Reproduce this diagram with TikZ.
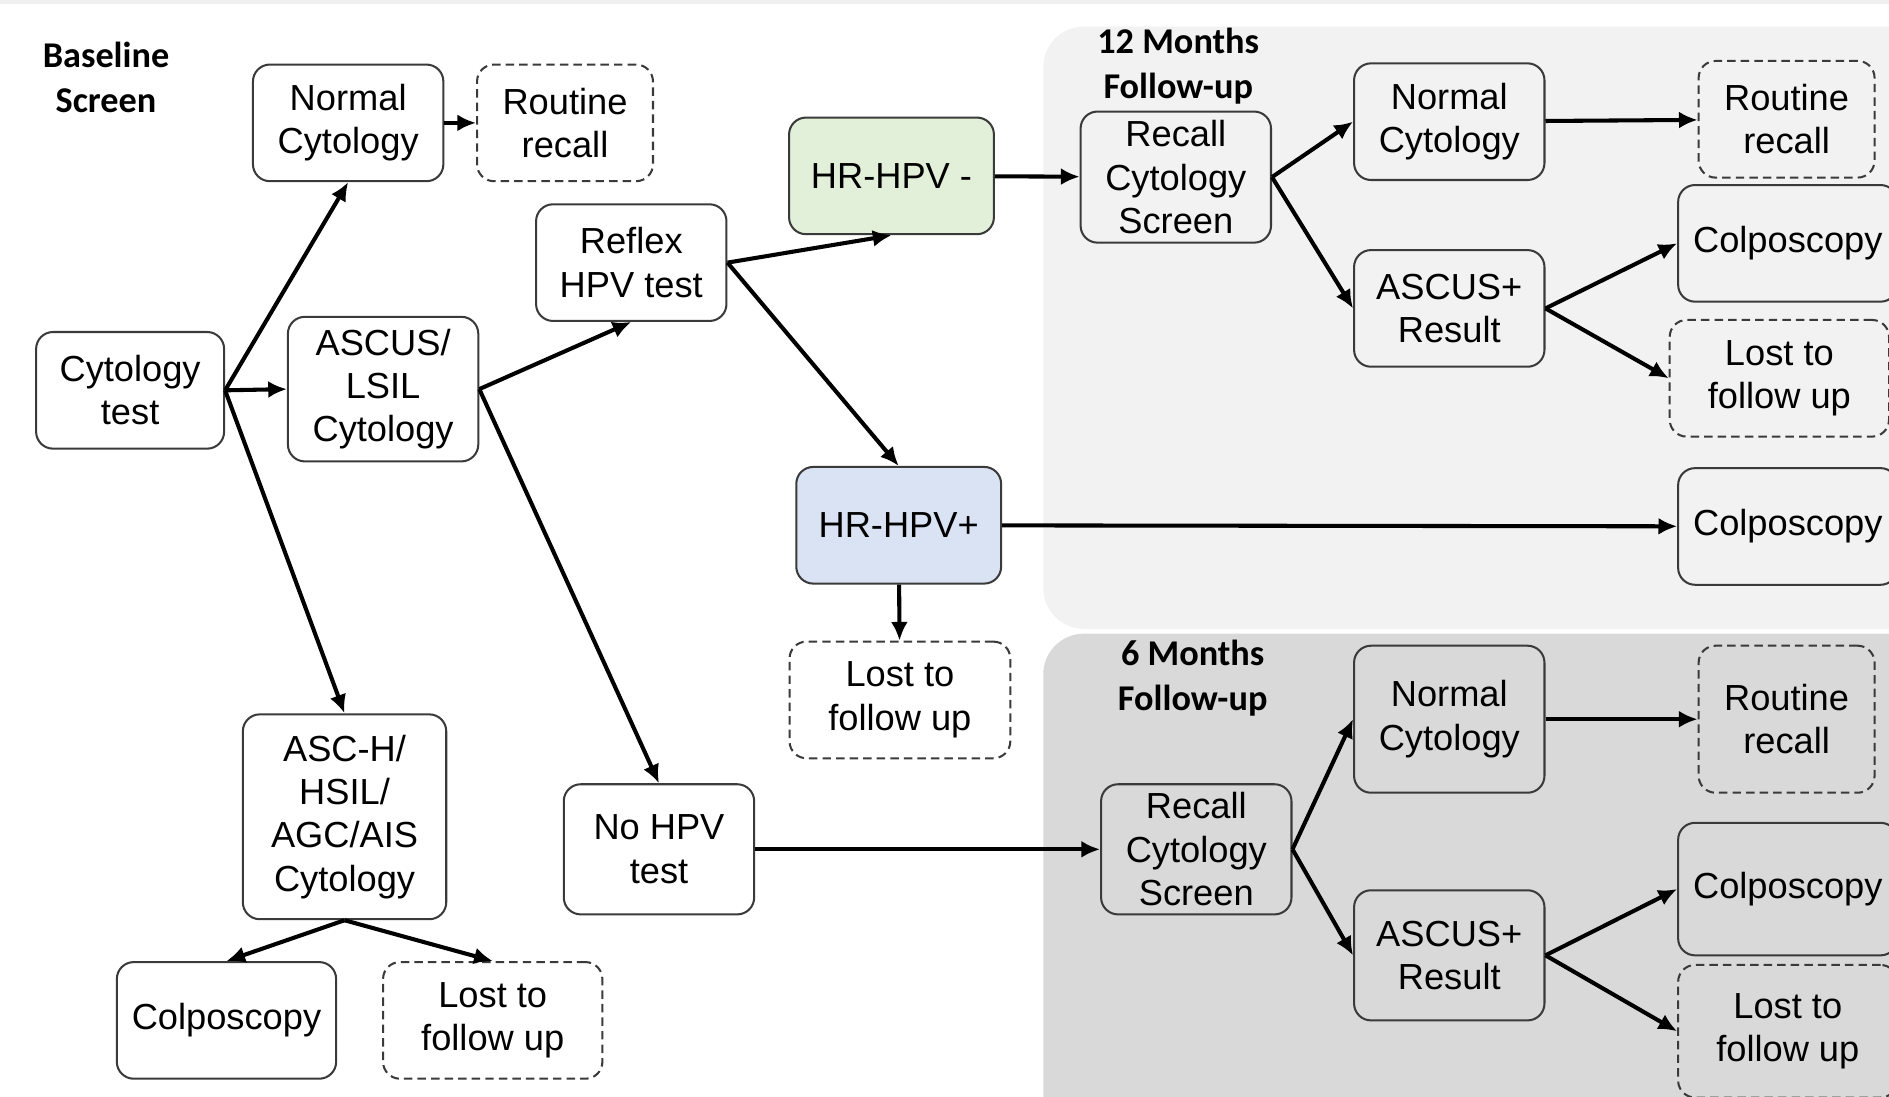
\documentclass[tikz,border=0pt]{standalone}
\usepackage{fontspec}
\setmainfont{Liberation Sans}
\newfontfamily\headfont{Carlito}
\usetikzlibrary{arrows.meta}
\definecolor{panellight}{HTML}{F2F2F2}
\definecolor{paneldark}{HTML}{D9D9D9}
\definecolor{negfill}{HTML}{E2F0D9}
\definecolor{posfill}{HTML}{DAE3F3}
\definecolor{edge}{HTML}{3A3A3A}
\tikzset{
  box/.style={draw=edge, line width=0.6pt, rounded corners=5pt, align=center, minimum width=1.975cm, minimum height=1.21cm, inner sep=1pt, font=\fontsize{10.7}{12.8}\selectfont},
  lostbox/.style={box, dash pattern=on 2.5pt off 1.5pt},
  head/.style={align=center, font=\headfont\bfseries\fontsize{10.7}{13.3}\selectfont},
  flow/.style={draw=black, line width=1.2pt, -{Latex[length=5.5pt,width=5pt]}},
}

\begin{document}
\begin{tikzpicture}[x=0.0125cm, y=-0.0125cm]
  \useasboundingbox (0,0) rectangle (1568,910);
  \clip (0,0) rectangle (1568,910);
  \fill[gray!12] (0,0) rectangle (1568,3);

  % follow-up panels
  \fill[panellight, rounded corners=12pt] (866,22) rectangle (1620,522);
  \fill[paneldark, rounded corners=12pt] (866,526) rectangle (1620,960);

  \node[head] (base) at (88,64) {Baseline\\Screen};
  \node[head] (head12) at (978,55) {12 Months\\Follow-up};
  \node[head] (head6) at (990,563) {6 Months\\Follow-up};

  % baseline screen
  \node[box, minimum width=1.95cm] (cyto) at (108,324) {Cytology\\test};
  \node[box] (norm) at (289,102) {Normal\\Cytology};
  \node[lostbox, minimum width=1.825cm] (recall) at (469,102) {Routine\\recall};
  \node[box, minimum height=1.5cm] (ascus) at (318,323) {ASCUS/\\LSIL\\Cytology};
  \node[box] (reflex) at (524,218) {Reflex\\HPV test};
  \node[box, fill=negfill, minimum width=2.125cm] (neg) at (740,146) {HR-HPV -};
  \node[box, fill=posfill, minimum width=2.125cm] (pos) at (746,436) {HR-HPV+};
  \node[lostbox, minimum width=2.29cm] (poslost) at (747,581) {Lost to\\follow up};
  \node[box, minimum width=2.11cm, minimum height=2.125cm] (high) at (286,678) {ASC-H/\\HSIL/\\AGC/AIS\\Cytology};
  \node[box, minimum width=2.275cm] (highcolpo) at (188,847) {Colposcopy};
  \node[lostbox, minimum width=2.275cm] (highlost) at (409,847) {Lost to\\follow up};
  \node[box, minimum height=1.35cm] (nohpv) at (547,705) {No HPV\\test};

  % 12 months
  \node[box, minimum height=1.36cm] (rec12) at (976,147) {Recall\\Cytology\\Screen};
  \node[box] (norm12) at (1203,101) {Normal\\Cytology};
  \node[lostbox, minimum width=1.825cm] (routine12) at (1483,99) {Routine\\recall};
  \node[box] (asc12) at (1203,256) {ASCUS+\\Result};
  \node[box, minimum width=2.275cm] (colpo12) at (1484,202) {Colposcopy};
  \node[lostbox, minimum width=2.275cm] (lost12) at (1477,314) {Lost to\\follow up};
  \node[box, minimum width=2.275cm] (poscolpo) at (1484,437) {Colposcopy};

  % 6 months
  \node[box, minimum height=1.35cm] (rec6) at (993,705) {Recall\\Cytology\\Screen};
  \node[box, minimum height=1.525cm] (norm6) at (1203,597) {Normal\\Cytology};
  \node[lostbox, minimum width=1.825cm, minimum height=1.525cm] (routine6) at (1483,597) {Routine\\recall};
  \node[box, minimum height=1.35cm] (asc6) at (1203,793) {ASCUS+\\Result};
  \node[box, minimum width=2.275cm, minimum height=1.375cm] (colpo6) at (1484,738) {Colposcopy};
  \node[lostbox, minimum width=2.275cm, minimum height=1.375cm] (lost6) at (1484,856) {Lost to\\follow up};

  \draw[flow] (cyto.east) -- (norm.south);
  \draw[flow] (cyto.east) -- (ascus.west);
  \draw[flow] (cyto.east) -- (high.north);
  \draw[flow] (norm) -- (recall);
  \draw[flow] (ascus.east) -- (reflex.south);
  \draw[flow] (ascus.east) -- (nohpv.north);
  \draw[flow] (reflex.east) -- (neg.south);
  \draw[flow] (reflex.east) -- (pos.north);
  \draw[flow] (neg) -- (rec12);
  \draw[flow] (pos) -- (poscolpo);
  \draw[flow] (pos) -- (poslost);
  \draw[flow] (high.south) -- (highcolpo.north);
  \draw[flow] (high.south) -- (highlost.north);
  \draw[flow] (nohpv) -- (rec6);

  \draw[flow] (rec12.east) -- (norm12.west);
  \draw[flow] (rec12.east) -- (asc12.west);
  \draw[flow] (norm12) -- (routine12);
  \draw[flow] (asc12.east) -- (colpo12.west);
  \draw[flow] (asc12.east) -- (lost12.west);

  \draw[flow] (rec6.east) -- (norm6.west);
  \draw[flow] (rec6.east) -- (asc6.west);
  \draw[flow] (norm6) -- (routine6);
  \draw[flow] (asc6.east) -- (colpo6.west);
  \draw[flow] (asc6.east) -- (lost6.west);
\end{tikzpicture}
\end{document}
